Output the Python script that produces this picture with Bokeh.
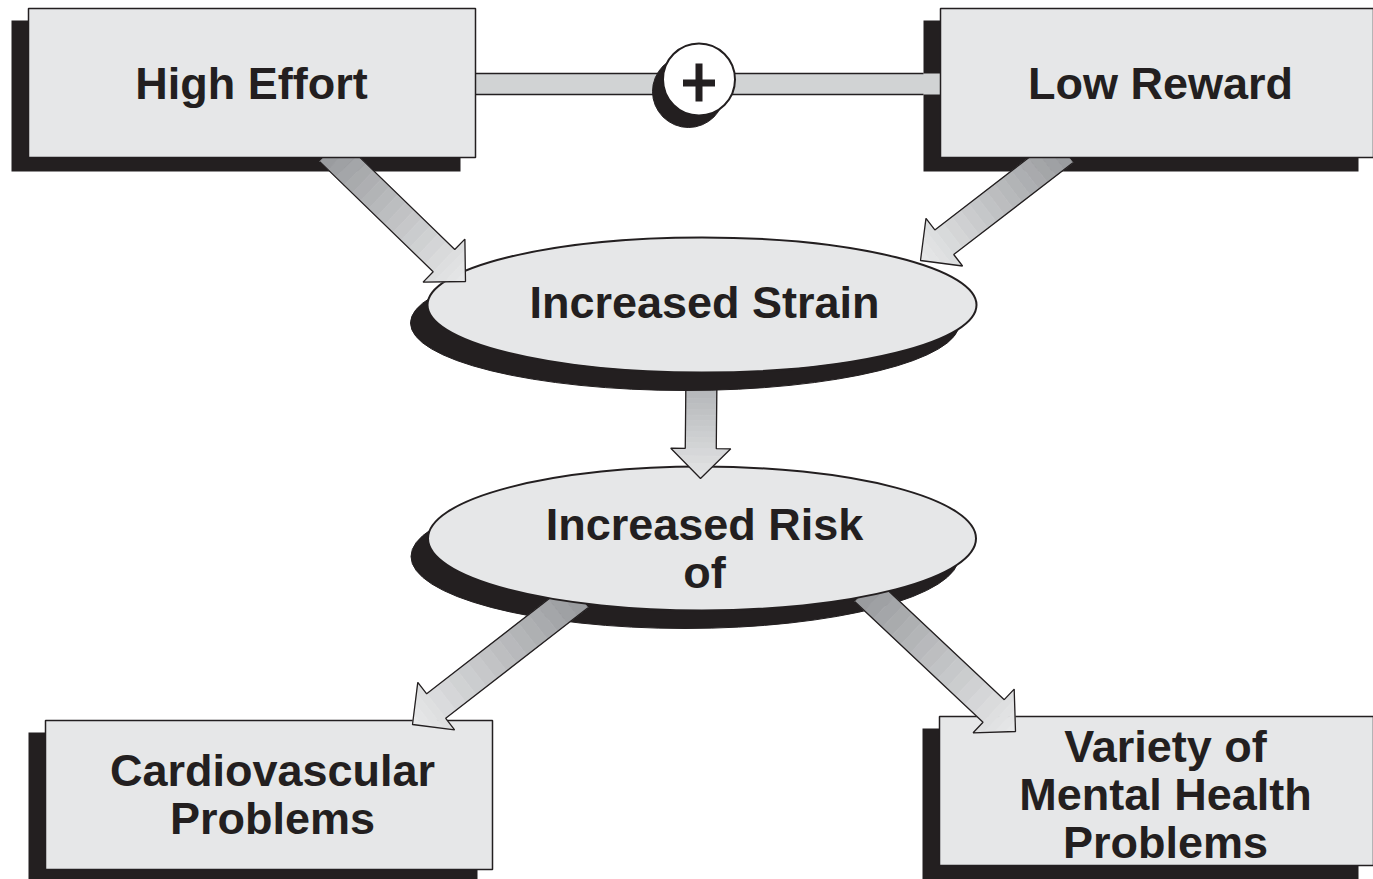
import math
from bokeh.plotting import figure
from bokeh.models import Range1d
from bokeh.embed import file_html
from bokeh.resources import INLINE
from bokeh.core.properties import value

# ---------------- data ----------------
box_names = ["High Effort", "Low Reward", "Cardiovascular", "Mental Health"]
box_left = [28, 940, 45, 939]
box_right = [475, 1373, 492, 1373]
box_top = [8, 8, 720, 716]
box_bottom = [157, 157, 869, 865]

box_lines = [["High Effort"], ["Low Reward"],
             ["Cardiovascular", "Problems"],
             ["Variety of", "Mental Health", "Problems"]]
box_text_x = [251, 1160, 272, 1165]
box_text_base = [[99], [99], [786, 834], [762, 810, 858]]

ell_x = [701.5, 701.5]
ell_y = [304.5, 538]
ell_w = [549, 548]
ell_h = [135, 144]
ell_lines = [["Increased Strain"], ["Increased Risk", "of"]]
ell_text_x = [704, 704]
ell_text_base = [[318], [540, 588]]

# arrows: start (hidden end) and tip
arrow_sx = [330, 1063, 701, 578, 865]
arrow_sy = [150, 150, 370, 595, 590]
arrow_tx = [465, 920, 700, 412, 1015]
arrow_ty = [281, 260, 478, 724, 731]

link_x0, link_x1, link_top, link_bottom = 475, 940, 73, 94
plus_x, plus_y, plus_r = 698.5, 79, 36

# ---------------- styles ----------------
DARK = "#231f20"
BOX = "#e6e7e8"
BAR = "#d1d3d4"
FONT = value("Liberation Sans")
TEXT_SHIFT = -16  # renderer places alphabetic baseline lower

p = figure(width=1373, height=879, output_backend="svg", toolbar_location=None,
           x_range=Range1d(0, 1373), y_range=Range1d(879, 0),
           min_border=0, x_axis_location=None, y_axis_location=None)
p.grid.visible = False
p.outline_line_color = None
p.background_fill_color = "white"
p.border_fill_color = "white"


def lerp(c0, c1, t):
    return "#%02x%02x%02x" % tuple(int(round(a + (b - a) * t)) for a, b in zip(c0, c1))


def draw_arrow(sx, sy, tx, ty, c0=(152, 154, 157), c1=(232, 233, 234)):
    dx, dy = tx - sx, ty - sy
    L = math.hypot(dx, dy)
    ux, uy = dx / L, dy / L
    nx, ny = -uy, ux
    w, hw, hl = 15.5, 30, 30
    Ls = L - hl

    def P(u, v):
        return sx + ux * u + nx * v, sy + uy * u + ny * v

    xs, ys, cs = [], [], []
    n = 14
    for i in range(n):
        u0, u1 = Ls * i / n, Ls * (i + 1) / n
        pts = [P(u0, -w), P(u1, -w), P(u1, w), P(u0, w)]
        xs.append([q[0] for q in pts]); ys.append([q[1] for q in pts])
        cs.append(lerp(c0, c1, (u0 + u1) / 2 / L))
    m = 4
    for j in range(m):
        u0, u1 = Ls + hl * j / m, Ls + hl * (j + 1) / m
        h0, h1 = hw * (L - u0) / hl, hw * (L - u1) / hl
        pts = [P(u0, -h0), P(u1, -h1), P(u1, h1), P(u0, h0)]
        xs.append([q[0] for q in pts]); ys.append([q[1] for q in pts])
        cs.append(lerp(c0, c1, (u0 + u1) / 2 / L))
    p.patches(xs, ys, fill_color=cs, line_color=cs, line_width=0.8)
    out = [P(0, -w), P(Ls, -w), P(Ls, -hw), P(L, 0), P(Ls, hw), P(Ls, w), P(0, w)]
    p.line([q[0] for q in out], [q[1] for q in out], line_color=DARK, line_width=1.3)


def draw_text(x, yb, line):
    p.text(x=[x], y=[yb + TEXT_SHIFT], text=[line], text_font=FONT,
           text_font_style="bold", text_font_size="45px", text_color=DARK,
           text_align="center", text_baseline="alphabetic")


def draw_box(i, shadow=True, front=True):
    if shadow:
        p.quad(left=box_left[i] - 17, right=box_right[i] - 15,
               top=box_top[i] + 12, bottom=box_bottom[i] + 14,
               fill_color=DARK, line_color=None)
    if front:
        p.quad(left=box_left[i], right=box_right[i], top=box_top[i], bottom=box_bottom[i],
               fill_color=BOX, line_color=DARK, line_width=1.5)
        for line, yb in zip(box_lines[i], box_text_base[i]):
            draw_text(box_text_x[i], yb, line)


def draw_ellipse(i, shadow=True, front=True):
    if shadow:
        p.ellipse(x=ell_x[i] - 17, y=ell_y[i] + 18, width=ell_w[i], height=ell_h[i],
                  fill_color=DARK, line_color=DARK, line_width=1)
    if front:
        p.ellipse(x=ell_x[i], y=ell_y[i], width=ell_w[i], height=ell_h[i],
                  fill_color=BOX, line_color=DARK, line_width=2)
        for line, yb in zip(ell_lines[i], ell_text_base[i]):
            draw_text(ell_text_x[i], yb, line)


# bottom boxes
draw_box(2)
draw_box(3)
# lower ellipse shadow, outgoing arrows, lower ellipse
draw_ellipse(1, front=False)
draw_arrow(arrow_sx[3], arrow_sy[3], arrow_tx[3], arrow_ty[3])
draw_arrow(arrow_sx[4], arrow_sy[4], arrow_tx[4], arrow_ty[4])
draw_ellipse(1, shadow=False)
# down arrow
draw_arrow(arrow_sx[2], arrow_sy[2], arrow_tx[2], arrow_ty[2], c0=(170, 172, 175), c1=(228, 229, 230))
# upper ellipse
draw_ellipse(0)
# top shadows, link bar, arrows, top fronts
draw_box(0, front=False)
draw_box(1, front=False)
p.quad(left=link_x0, right=link_x1, top=link_top, bottom=link_bottom, fill_color=BAR, line_color=None)
p.segment(x0=[link_x0, link_x0], y0=[link_top, link_bottom], x1=[923, 923], y1=[link_top, link_bottom],
          line_color=DARK, line_width=1.5)
draw_arrow(arrow_sx[0], arrow_sy[0], arrow_tx[0], arrow_ty[0])
draw_arrow(arrow_sx[1], arrow_sy[1], arrow_tx[1], arrow_ty[1])
draw_box(0, shadow=False)
draw_box(1, shadow=False)

# plus circle
p.ellipse(x=plus_x - 10.5, y=plus_y + 12, width=2 * plus_r, height=2 * plus_r,
          fill_color=DARK, line_color=DARK)
p.ellipse(x=plus_x, y=plus_y, width=2 * plus_r, height=2 * plus_r,
          fill_color="white", line_color=DARK, line_width=2)
p.quad(left=plus_x - 16, right=plus_x + 16, top=plus_y + 0, bottom=plus_y + 7, fill_color=DARK, line_color=None)
p.quad(left=plus_x - 3.5, right=plus_x + 3.5, top=plus_y - 16, bottom=plus_y + 22, fill_color=DARK, line_color=None)

open("out.html", "w").write(file_html(p, INLINE))
